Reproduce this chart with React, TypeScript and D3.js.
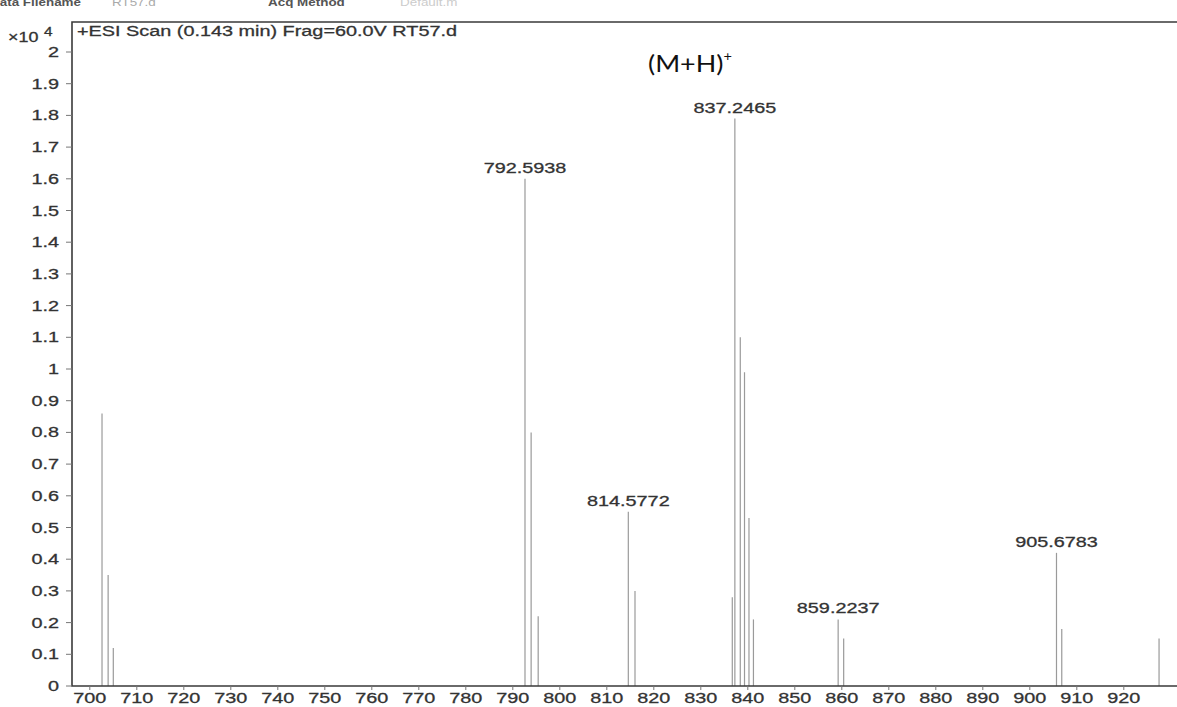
import React, { useEffect, useRef } from 'react';
import * as d3 from 'd3';

// peaks (m/z, abundance x10^4)
const peakMz = [702.6, 703.9, 705.0, 792.5938, 793.9, 795.4, 814.5772, 816.0, 836.7, 837.2465, 838.4, 839.3, 840.25, 841.2, 859.2237, 860.4, 905.6783, 906.8, 927.5];
const peakAbundance = [0.86, 0.35, 0.12, 1.6, 0.8, 0.22, 0.55, 0.3, 0.28, 1.79, 1.1, 0.99, 0.53, 0.21, 0.21, 0.15, 0.42, 0.18, 0.15];
const labelledPeaks = [792.5938, 814.5772, 837.2465, 859.2237, 905.6783];
const xTicks = d3.range(700, 921, 10);
const yTicks = d3.range(0, 21).map((i) => i / 10);

const STRETCH = 1.28; // the scan is wider than it is tall

const App: React.FC = () => {
  const svgRef = useRef<SVGSVGElement>(null);

  useEffect(() => {
    document.body.style.margin = '0';
    if (!svgRef.current) {
      return;
    }
    const svg = d3.select(svgRef.current);
    svg.selectAll('*').remove();

    const width = 1177;
    const height = 707;
    const left = 72;
    const top = 22;
    const bottom = 686;
    const font = 'Liberation Sans, Arial, sans-serif';

    const x = d3.scaleLinear().domain([700, 920]).range([89.8, 1123.8]);
    const y = d3.scaleLinear().domain([0, 2]).range([bottom, 52]);

    svg.attr('width', width).attr('height', height).style('display', 'block').style('background', '#fff');

    const label = (
      g: d3.Selection<SVGGElement, unknown, null, undefined>,
      px: number,
      py: number,
      str: string,
      anchor = 'start',
      size = 15.5
    ) =>
      g
        .append('text')
        .attr('transform', `translate(${px},${py}) scale(${STRETCH},1)`)
        .attr('text-anchor', anchor)
        .attr('font-size', size)
        .text(str);

    // cropped header from the printout
    const header = svg.append('g').attr('font-family', font).attr('fill', '#555');
    label(header, -10, 6, 'Data Filename', 'start', 10.5).attr('font-weight', 700);
    label(header, 112, 6, 'RT57.d', 'start', 10.5).attr('fill', '#aaa');
    label(header, 268, 6, 'Acq Method', 'start', 10.5).attr('font-weight', 700);
    label(header, 400, 6, 'Default.m', 'start', 10.5).attr('fill', '#ccc');

    // peaks
    svg
      .append('g')
      .selectAll('line')
      .data(peakMz.map((mz, i) => ({ mz, value: peakAbundance[i] })))
      .enter()
      .append('line')
      .attr('x1', (d) => x(d.mz))
      .attr('x2', (d) => x(d.mz))
      .attr('y1', bottom)
      .attr('y2', (d) => y(d.value))
      .attr('stroke', '#9a9a9a')
      .attr('stroke-width', 1.2);

    // frame
    svg
      .append('path')
      .attr('d', `M${width},${top} H${left} V${bottom} H${width}`)
      .attr('fill', 'none')
      .attr('stroke', '#3a3a3a')
      .attr('stroke-width', 1.6);

    const textStyle = (g: d3.Selection<SVGGElement, unknown, null, undefined>) =>
      g.attr('font-family', font).attr('fill', '#333').attr('stroke', '#333').attr('stroke-width', 0.3);

    const yAxis = svg.append('g').call(textStyle);
    yTicks.forEach((t) => {
      yAxis.append('line').attr('x1', left - 6).attr('x2', left).attr('y1', y(t)).attr('y2', y(t)).attr('stroke', '#777').attr('stroke-width', 1);
      label(yAxis, left - 13, y(t) + 5, String(+t.toFixed(1)), 'end');
    });

    const xAxis = svg.append('g').call(textStyle);
    xTicks.forEach((t) => {
      xAxis.append('line').attr('x1', x(t)).attr('x2', x(t)).attr('y1', bottom).attr('y2', bottom + 4).attr('stroke', '#777').attr('stroke-width', 1);
      label(xAxis, x(t), bottom + 17, String(t), 'middle');
    });

    // exponent and title
    const exp = svg.append('g').call(textStyle);
    label(exp, 8, 42, '×10', 'start', 14);
    label(exp, 44, 36, '4', 'start', 12);
    const title = svg.append('g').call(textStyle);
    label(title, 77, 36, '+ESI Scan (0.143 min) Frag=60.0V RT57.d');

    // peak labels
    const peakLabels = svg.append('g').call(textStyle);
    labelledPeaks.forEach((mz) => {
      label(peakLabels, x(mz), y(peakAbundance[peakMz.indexOf(mz)]) - 6, mz.toFixed(4), 'middle');
    });

    const mh = svg
      .append('text')
      .attr('transform', 'translate(648,72) scale(1.12,1)')
      .attr('font-family', 'Lato, Open Sans, sans-serif')
      .attr('font-size', 24)
      .attr('fill', '#111');
    mh.append('tspan').text('(M+H)');
    mh.append('tspan').attr('font-size', 13).attr('dy', -11).text('+');
  }, []);

  return <svg ref={svgRef} />;
};

export default App;
